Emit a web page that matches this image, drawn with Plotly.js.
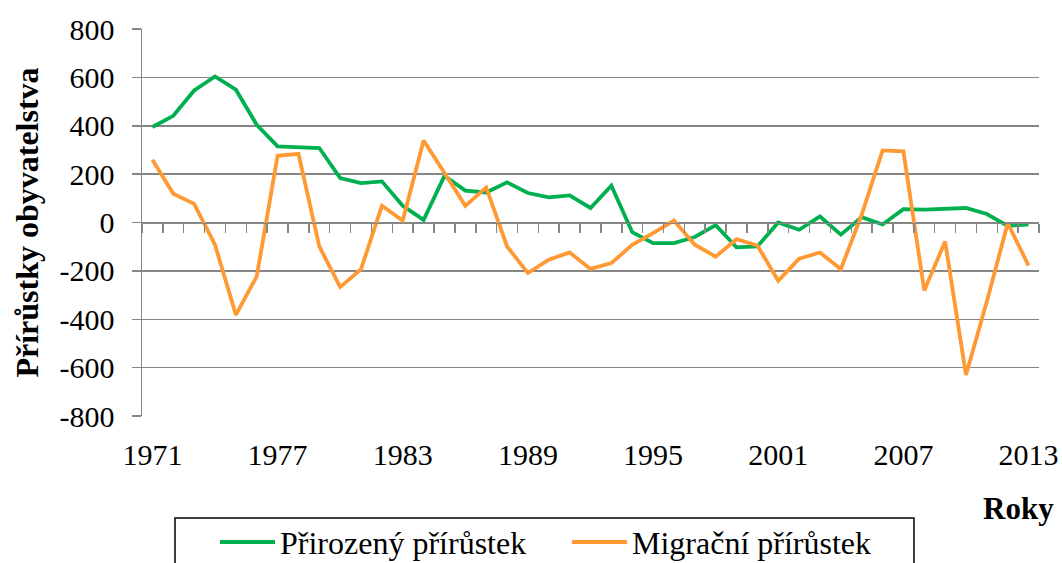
<!DOCTYPE html>
<html>
<head>
<meta charset="utf-8">
<script src="https://cdn.plot.ly/plotly-3.0.1.min.js"></script>
<style>html,body{margin:0;padding:0;background:#fff;}#chart{width:1062px;height:563px;}</style>
</head>
<body>
<div id="chart"></div>
<script>
const years = [1971,1972,1973,1974,1975,1976,1977,1978,1979,1980,1981,1982,1983,1984,1985,1986,1987,1988,1989,1990,1991,1992,1993,1994,1995,1996,1997,1998,1999,2000,2001,2002,2003,2004,2005,2006,2007,2008,2009,2010,2011,2012,2013];
const prirozeny = [395,441,546,604,549,404,315,310,308,184,163,170,69,11,193,132,124,166,122,104,112,60,152,-40,-85,-85,-60,-11,-103,-99,0,-30,25,-50,22,-8,55,53,57,60,35,-14,-8];
const migracni = [259,119,77,-92,-382,-223,276,284,-99,-267,-193,69,8,339,205,69,145,-99,-209,-154,-124,-192,-168,-92,-44,8,-92,-141,-69,-95,-241,-150,-124,-193,32,298,294,-281,-79,-630,-327,-3,-178];
const tickYears = [1971,1977,1983,1989,1995,2001,2007,2013];
const yTicks = [-800,-600,-400,-200,0,200,400,600,800];
const seriesNames = ['Přirozený přírůstek','Migrační přírůstek'];
const yTitle = 'Přírůstky obyvatelstva';
const xTitle = 'Roky';

const FONT = "'Liberation Serif', 'Times New Roman', serif";
const GRAY = '#868686';
const boundaries = [years[0]-0.5].concat(years.map(y => y + 0.5));

const traces = [
  {x: years, y: prirozeny, name: seriesNames[0], type: 'scatter', mode: 'lines',
   line: {color: '#00B050', width: 3.8}},
  {x: years, y: migracni, name: seriesNames[1], type: 'scatter', mode: 'lines',
   line: {color: '#FF9933', width: 3.8}},
  {x: [years[0]], y: [null], xaxis: 'x2', showlegend: false, hoverinfo: 'skip', type: 'scatter', mode: 'lines'}
];

const xr = [years[0]-0.5, years[years.length-1]+0.5];
const layout = {
  width: 1062, height: 563,
  margin: {l: 142, r: 23, t: 29, b: 147, autoexpand: false},
  paper_bgcolor: '#fff', plot_bgcolor: '#fff',
  font: {family: FONT, color: '#000', size: 30},
  showlegend: true,
  xaxis: {
    range: xr, tickmode: 'array', tickvals: tickYears, ticktext: tickYears.map(String),
    showgrid: false, zeroline: false, showline: false, ticks: '',
    ticklabelstandoff: 18, tickfont: {size: 30, family: FONT}
  },
  xaxis2: {
    overlaying: 'x', anchor: 'free', position: 0.5, side: 'bottom', range: xr,
    tickmode: 'array', tickvals: boundaries, showticklabels: false,
    ticks: 'outside', ticklen: 9, tickwidth: 1.5, tickcolor: GRAY,
    showline: true, linecolor: GRAY, linewidth: 1.5, showgrid: false, zeroline: false
  },
  yaxis: {
    range: [-800, 800], tickmode: 'array', tickvals: yTicks, ticktext: yTicks.map(String),
    showgrid: true, gridcolor: GRAY, gridwidth: 1.5, zeroline: false,
    showline: true, linecolor: GRAY, linewidth: 1.5,
    ticks: 'outside', ticklen: 9, tickwidth: 1.5, tickcolor: GRAY,
    ticklabelstandoff: 11, tickfont: {size: 30, family: FONT},
    title: {text: '<b>' + yTitle + '</b>', font: {size: 32, family: FONT}, standoff: 11}
  },
  legend: {
    orientation: 'h', x: 0.0814, y: -0.255, xanchor: 'left', yanchor: 'top',
    borderwidth: 0, bgcolor: 'rgba(0,0,0,0)',
    font: {size: 32, family: FONT}, itemwidth: 55,
    entrywidth: 282, entrywidthmode: 'pixels'
  },
  shapes: [
    {type: 'rect', xref: 'paper', yref: 'paper', x0: 0.0368, x1: 0.8606, y0: -0.2636, y1: -0.5,
     line: {color: '#000', width: 1.5}, fillcolor: 'rgba(0,0,0,0)', layer: 'below'}
  ],
  annotations: [
    {text: '<b>' + xTitle + '</b>', xref: 'paper', yref: 'paper', x: 1.0195, y: -0.24,
     xanchor: 'right', yanchor: 'middle', showarrow: false, font: {size: 31, family: FONT}}
  ]
};

Plotly.newPlot('chart', traces, layout, {displayModeBar: false, staticPlot: true});
</script>
</body>
</html>
